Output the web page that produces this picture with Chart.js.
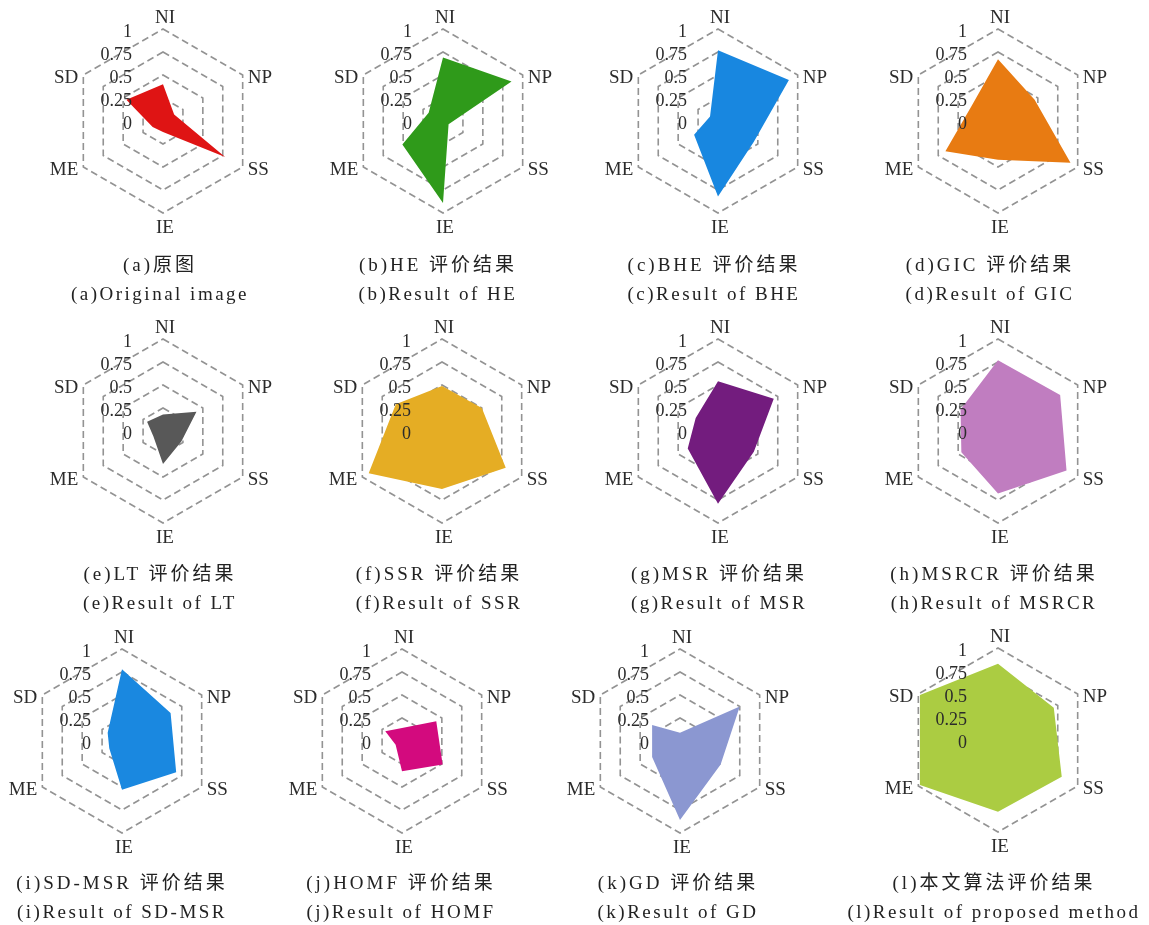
<!DOCTYPE html>
<html>
<head>
<meta charset="utf-8">
<title>评价结果雷达图</title>
<script src="https://cdn.jsdelivr.net/npm/chart.js@4.4.1/dist/chart.umd.min.js"></script>
<style>
  body { margin: 0; background: #fff; }
  #page { position: relative; width: 1149px; height: 925px; overflow: hidden; }
  .panel { position: absolute; width: 280px; height: 250px; }
  .cap {
    position: absolute; width: 340px; text-align: center; white-space: nowrap;
    font-family: "Liberation Serif", "Noto Sans CJK SC", serif;
    font-size: 19px; line-height: 29px; color: #222;
  }
  .cap .cn { letter-spacing: 3px; }
  .cap .en { letter-spacing: 2.5px; }
</style>
</head>
<body>
<div id="page"></div>
<script>
// axes and radial ticks
const axisLabels = ['NI', 'NP', 'SS', 'IE', 'ME', 'SD'];
const tickValues = [0, 0.25, 0.5, 0.75, 1];
const tickLabels = ['0', '0.25', '0.5', '0.75', '1'];

// scores per method, in axis order NI, NP, SS, IE, ME, SD
const valuesOriginal = [0.40, 0.14, 0.78, 0.12, 0.13, 0.46];
const valuesHE       = [0.69, 0.86, 0.07, 0.89, 0.51, 0.18];
const valuesBHE      = [0.77, 0.89, 0.45, 0.82, 0.30, 0.10];
const valuesGIC      = [0.67, 0.46, 0.91, 0.42, 0.66, 0.33];
const valuesLT       = [0.18, 0.42, 0.23, 0.36, 0.12, 0.20];
const valuesSSR      = [0.49, 0.50, 0.80, 0.63, 0.92, 0.58];
const valuesMSR      = [0.54, 0.70, 0.45, 0.79, 0.38, 0.28];
const valuesMSRCR    = [0.77, 0.78, 0.86, 0.68, 0.46, 0.47];
const valuesSDMSR    = [0.78, 0.61, 0.68, 0.53, 0.16, 0.18];
const valuesHOMF     = [0.14, 0.43, 0.51, 0.33, 0.08, 0.21];
const valuesGD       = [0.09, 0.75, 0.51, 0.86, 0.35, 0.35];
const valuesOurs     = [0.83, 0.70, 0.80, 0.78, 0.98, 0.98];

const seriesList = [valuesOriginal, valuesHE, valuesBHE, valuesGIC, valuesLT, valuesSSR,
                    valuesMSR, valuesMSRCR, valuesSDMSR, valuesHOMF, valuesGD, valuesOurs];

const fillColors = ['#df1414', '#2f9a1a', '#1887e0', '#e87b12', '#585858', '#e5ad24',
                    '#731c7e', '#c07dc0', '#1a88e0', '#d30a7e', '#8b97d1', '#abcc42'];

const captionsCn = ['(a)原图', '(b)HE 评价结果', '(c)BHE 评价结果', '(d)GIC 评价结果',
                    '(e)LT 评价结果', '(f)SSR 评价结果', '(g)MSR 评价结果', '(h)MSRCR 评价结果',
                    '(i)SD-MSR 评价结果', '(j)HOMF 评价结果', '(k)GD 评价结果', '(l)本文算法评价结果'];
const captionsEn = ['(a)Original image', '(b)Result of HE', '(c)Result of BHE', '(d)Result of GIC',
                    '(e)Result of LT', '(f)Result of SSR', '(g)Result of MSR', '(h)Result of MSRCR',
                    '(i)Result of SD-MSR', '(j)Result of HOMF', '(k)Result of GD', '(l)Result of proposed method'];

// page layout: radar centres and caption rows
const centres = [[163, 121], [443, 121], [718, 121], [998, 121],
                 [163, 431], [442, 431], [718, 431], [998, 431],
                 [122, 741], [402, 741], [680, 741], [998, 740]];
const captionX = [160, 438, 714, 990, 160, 439, 719, 994, 122, 401, 678, 994];
const captionY = [264, 573, 882];
const R = 92;

// tick labels sit left of the vertical axis; axis names sit just outside the vertices
const radarText = {
    id: 'radarText',
    afterDatasetsDraw(chart) {
        const r = chart.scales.r;
        const ctx = chart.ctx;
        ctx.save();
        ctx.fillStyle = '#2b2b2b';
        ctx.textBaseline = 'middle';
        ctx.font = '18px "Liberation Serif"';
        ctx.textAlign = 'right';
        tickValues.forEach((v, i) => {
            const y = r.yCenter - r.getDistanceFromCenterForValue(v);
            ctx.fillText(tickLabels[i], r.xCenter - 31, y + 3);
        });

        ctx.font = '19px "Liberation Serif"';
        axisLabels.forEach((label, i) => {
            const p = r.getPointPosition(i, r.drawingArea);
            let x = p.x, y = p.y + 3, align = 'center';
            if (i === 0) { x += 2; y = p.y - 11; }
            else if (i === 3) { x += 2; y = p.y + 15; }
            else if (i === 1 || i === 2) { x += 5; align = 'left'; }
            else { x -= 5; align = 'right'; }
            ctx.textAlign = align;
            ctx.fillText(label, x, y);
        });
        ctx.restore();
    }
};

const page = document.getElementById('page');

function createRadar(idx) {
    const [cx, cy] = centres[idx];
    const box = document.createElement('div');
    box.className = 'panel';
    box.style.left = (cx - 140) + 'px';
    box.style.top = (cy - 120) + 'px';
    const canvas = document.createElement('canvas');
    canvas.width = 280;
    canvas.height = 250;
    box.appendChild(canvas);
    page.appendChild(box);

    new Chart(canvas, {
        type: 'radar',
        data: {
            labels: axisLabels,
            datasets: [{
                data: seriesList[idx],
                backgroundColor: fillColors[idx],
                borderWidth: 0,
                pointRadius: 0,
                fill: true,
                tension: 0
            }]
        },
        options: {
            responsive: false,
            animation: false,
            layout: {
                padding: { left: 140 - R, right: 140 - R, top: 120 - R, bottom: 250 - 120 - R }
            },
            plugins: {
                legend: { display: false },
                tooltip: { enabled: false }
            },
            scales: {
                r: {
                    min: 0,
                    max: 1,
                    ticks: { stepSize: 0.25, display: false },
                    angleLines: { display: false },
                    pointLabels: { display: false },
                    grid: { color: '#939393', lineWidth: 1.6, circular: false },
                    border: { dash: [7, 4] }
                }
            }
        },
        plugins: [radarText]
    });
}

function addCaption(idx) {
    const row = Math.floor(idx / 4);
    const cap = document.createElement('div');
    cap.className = 'cap';
    cap.style.left = (captionX[idx] - 170) + 'px';
    cap.style.top = (captionY[row] - 14) + 'px';
    cap.innerHTML = '<div class="cn"></div><div class="en"></div>';
    cap.children[0].textContent = captionsCn[idx];
    cap.children[1].textContent = captionsEn[idx];
    page.appendChild(cap);
}

for (let i = 0; i < seriesList.length; i++) {
    createRadar(i);
    addCaption(i);
}
</script>
</body>
</html>
